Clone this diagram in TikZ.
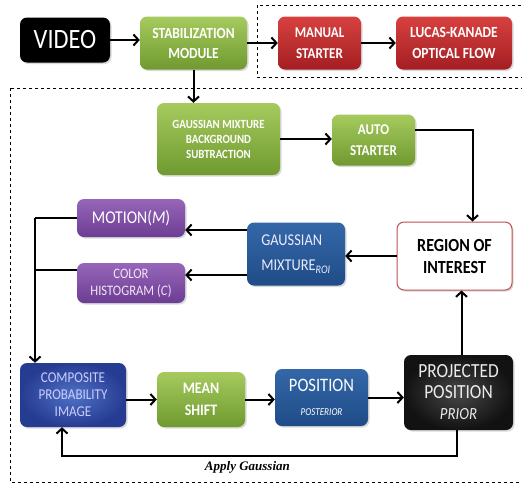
\documentclass[tikz,border=0pt]{standalone}
\usepackage{fontspec}
\newfontfamily\boxfont[FakeStretch=0.87]{Carlito}
\newfontfamily\notefont{Liberation Serif}
\usetikzlibrary{arrows.meta}
\usetikzlibrary{shadows}
\definecolor{greenhi}{HTML}{A6CA5E}
\definecolor{greenlo}{HTML}{6F9A2F}
\definecolor{redhi}{HTML}{D8413F}
\definecolor{redlo}{HTML}{A31E22}
\definecolor{purphi}{HTML}{9566BA}
\definecolor{purplo}{HTML}{6C3D92}
\definecolor{bluehi}{HTML}{3467A8}
\definecolor{bluelo}{HTML}{1F4C88}
\definecolor{compin}{HTML}{4F72C4}
\definecolor{compout}{HTML}{263C92}
\definecolor{roiedge}{HTML}{C0504D}
\tikzset{
    blk/.style = {rounded corners=7pt,text=white,align=center,inner sep=0pt,
        drop shadow={opacity=0.3,shadow xshift=1.5pt,shadow yshift=-1.5pt}},
    dims/.style 2 args = {minimum width=#1,minimum height=#2},
    fs/.style 2 args = {font=\boxfont\fontsize{#1}{#2}\selectfont},
    bfs/.style 2 args = {font=\boxfont\bfseries\fontsize{#1}{#2}\selectfont},
    greenblk/.style = {blk,top color=greenhi,bottom color=greenlo},
    redblk/.style = {blk,top color=redhi,bottom color=redlo},
    purpblk/.style = {blk,top color=purphi,bottom color=purplo},
    blueblk/.style = {blk,top color=bluehi,bottom color=bluelo},
    flow/.style = {line width=2pt,-{Straight Barb[length=5pt,width=11pt]}},
    wire/.style = {line width=2pt},
    frame/.style = {dashed,line width=0.8pt}
}

\begin{document}
\begin{tikzpicture}[x=1pt,y=-1pt]
    \useasboundingbox (0,0) rectangle (522,483);
    % Groups
    \draw[frame] (257,5) rectangle (530,77);
    \draw[frame] (10,88) rectangle (530,482);
    % Top row
    \path (65,40) node[blk,fill=black,dims={90}{45},fs={28}{30}] (video) {VIDEO}
        (193.5,43) node[greenblk,dims={107}{53},bfs={15.5}{20}] (stab) {STABILIZATION\\MODULE}
        (319.5,43) node[redblk,dims={83}{53},bfs={15}{21}] (manual) {MANUAL\\STARTER}
        (454,43) node[redblk,dims={116}{53},bfs={15.5}{21}] (lucas) {LUCAS-KANADE\\OPTICAL FLOW}
    ;
    % Detection
    \path (218.5,139) node[greenblk,dims={123}{72},bfs={12.5}{15}] (gmm) {GAUSSIAN MIXTURE\\BACKGROUND\\SUBTRACTION}
        (373.5,140) node[greenblk,dims={83}{51},bfs={15}{21}] (auto) {AUTO\\STARTER}
        (454.5,256) node[blk,fill=white,draw=roiedge,line width=1pt,text=black,dims={115}{68},bfs={18.5}{22}] (roi) {REGION OF\\INTEREST}
        (296,254) node[blueblk,align=left,text=blue!8,dims={98}{63},fs={16.5}{25}] (gmroi) {GAUSSIAN\\MIXTURE\textsubscript{\itshape ROI}}
        (131,218) node[purpblk,dims={108}{38},fs={18}{20}] (motion) {MOTION(\textit{M})}
        (131,283) node[purpblk,text=violet!10,dims={108}{40},fs={14.5}{17}] (color) {COLOR\\HISTOGRAM (\textit{C})}
    ;
    % Tracking row
    \path (73,395) node[blk,inner color=compin,outer color=compout,text=blue!20,dims={106}{64},fs={15}{17}] (comp) {COMPOSITE\\PROBABILITY\\IMAGE}
        (201,399.5) node[greenblk,dims={88}{55},bfs={16}{22}] (mean) {MEAN\\SHIFT}
        (321.5,397.5) node[blueblk,dims={93}{57},fs={19}{24}] (pos) {POSITION\\{\itshape\fontsize{10.5}{12}\selectfont POSTERIOR}}
        (458.5,392.5) node[blk,inner color=black!72,outer color=black!93,text=black!8,dims={109}{75},fs={20}{21}] (proj) {PROJECTED\\POSITION\\{\itshape\fontsize{17}{18}\selectfont PRIOR}}
    ;
    \coordinate (bus) at (35,0);
    % Top row links
    \draw[flow] (video.east) -- (video.east -| stab.west);
    \draw[flow] (stab.east) -- (manual.west);
    \draw[flow] (manual.east) -- (lucas.west);
    \draw[flow] (stab.south) -- (stab.south |- gmm.north);
    \draw[flow] (gmm.east) -- (gmm.east -| auto.west);
    \draw[flow] ([yshift=10]auto.east) -| ([xshift=18]roi.north);
    % Region of interest to cues
    \draw[flow] (roi.west) -- (roi.west -| gmroi.east);
    \draw[flow] ([yshift=-21]gmroi.west) -- ([yshift=-21]gmroi.west -| motion.east);
    \draw[flow] ([yshift=24]gmroi.west) -- ([yshift=24]gmroi.west -| color.east);
    % Cues into composite image
    \draw[wire] (motion.west) -- (motion.west -| bus);
    \draw[wire] ([yshift=13]color.west) -- ([yshift=13]color.west -| bus);
    \draw[flow] (motion.west -| bus) -- (bus |- comp.north);
    % Tracking loop
    \draw[flow] (comp.east |- mean.west) -- (mean.west);
    \draw[flow] (mean.east) -- (mean.east -| pos.west);
    \draw[flow] (pos.east) -- (pos.east -| proj.west);
    \draw[flow] ([xshift=3]proj.north) -- ([xshift=3]proj.north |- roi.south);
    \draw[flow] ([xshift=-2]proj.south) -- ++(0,26) -| node[pos=0.265,below=1pt,font=\notefont\bfseries\itshape\fontsize{13}{15}\selectfont] {Apply Gaussian} ([xshift=-11]comp.south);
\end{tikzpicture}
\end{document}
